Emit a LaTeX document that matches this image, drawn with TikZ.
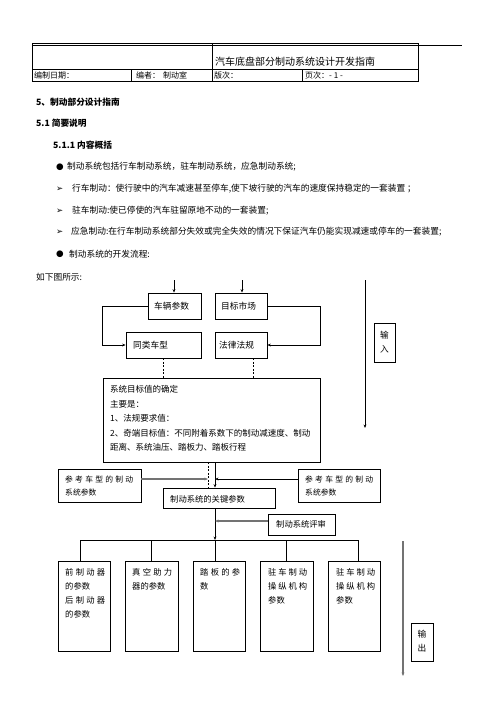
\documentclass[tikz,border=0pt]{standalone}
\usepackage{fontspec}
\setmainfont{Noto Sans CJK SC}
\newfontfamily\symf{DejaVu Sans}
\usetikzlibrary{arrows.meta}
\begin{document}
\begin{tikzpicture}[x=1pt,y=-1pt,
  box/.style={draw, line width=0.8pt, inner sep=0pt},
  txt/.style={inner sep=0pt, anchor=west, font=\fontsize{8.7}{10}\selectfont},
  htxt/.style={inner sep=0pt, anchor=west, font=\fontsize{8}{10}\selectfont},
  btxt/.style={inner sep=0pt, anchor=west, font=\fontsize{8.3}{10}\selectfont},
  rtxt/.style={inner sep=0pt, anchor=west, font=\fontsize{7.8}{10}\selectfont},
  hd/.style={inner sep=0pt, anchor=west, font=\fontsize{8.7}{10}\selectfont\bfseries},
  arrsym/.style={inner sep=0pt, anchor=west, font=\symf\fontsize{8.5}{10}\selectfont},
  arr/.style={-{Stealth[length=3.5pt,width=2.8pt]}, line width=0.7pt},
  garr/.style={-{Stealth[length=3.5pt,width=2.8pt]}, draw=black!55, line width=1.3pt},
  dsh/.style={dashed, dash pattern=on 2pt off 1.5pt, line width=0.7pt}]
\useasboundingbox (0,0) rectangle (496,702);
\fill[white] (0,0) rectangle (496,702);

% ---------- header table ----------
\draw[line width=0.6pt] (32,43) rectangle (418,81);
\draw[line width=0.6pt] (32,69) -- (418,69);
\draw[line width=0.6pt] (212,43) -- (212,81);
\draw[line width=0.6pt] (131,69) -- (131,81);
\draw[line width=0.6pt] (302,69) -- (302,81);
\draw[line width=1.2pt] (32,45.5) -- (462,45.5);
\node[inner sep=0pt, anchor=west, font=\fontsize{10}{12}\selectfont] (title) at (215,62) {汽车底盘部分制动系统设计开发指南};
\node[htxt] (h1) at (34,75) {编制日期：};
\node[htxt] (h2) at (136,75) {编者：};
\node[htxt] (h3) at (163,75) {制动室};
\node[htxt] (h4) at (214,75) {版次：};
\node[htxt] (h5) at (305,75) {页次：- 1 -};

% ---------- body text ----------
\node[hd] (s5) at (36,102) {5、制动部分设计指南};
\node[hd] (s51) at (36,123) {5.1 简要说明};
\node[hd] (s511) at (53,145) {5.1.1 内容概括};
\node[txt] (bu1) at (56,167) {\symf ●};
\node[txt] (t1) at (67,167) {制动系统包括行车制动系统，驻车制动系统，应急制动系统;};
\node[arrsym] (ar1) at (56,189) {➢};
\node[txt] (t2) at (72,189) {行车制动：使行驶中的汽车减速甚至停车,使下坡行驶的汽车的速度保持稳定的一套装置 ；};
\node[arrsym] (ar2) at (56,211) {➢};
\node[txt] (t3) at (72,211) {驻车制动:使已停使的汽车驻留原地不动的一套装置;};
\node[arrsym] (ar3) at (56,232) {➢};
\node[txt] (t4) at (71,232) {应急制动:在行车制动系统部分失效或完全失效的情况下保证汽车仍能实现减速或停车的一套装置;};
\node[txt] (bu2) at (56,254) {\symf ●};
\node[txt] (t5) at (69,254) {制动系统的开发流程:};
\node[txt] (t6) at (36,277) {如下图所示:};

% ---------- flow chart ----------
\coordinate (in1) at (174,280);
\coordinate (in2) at (242,280);
\node[box, minimum width=53pt, minimum height=26pt] (cl) at (174.5,306) {};
\node[txt] at (154,306) {车辆参数};
\node[box, minimum width=52pt, minimum height=26pt] (mk) at (241,306) {};
\node[txt] at (221,306) {目标市场};
\node[box, minimum width=75pt, minimum height=26pt] (tl) at (163.5,345) {};
\node[txt] at (133,345) {同类车型};
\node[box, minimum width=52pt, minimum height=26pt] (fl) at (241,345) {};
\node[txt] at (219,345) {法律法规};

\draw[arr] (in1) -- (in1 |- cl.north);
\draw[arr] (in2) -- (in2 |- mk.north);
\draw[arr] (cl.west) -- ++(-45,0) |- (tl.west);
\draw[arr] (mk.east) -- ++(53,0) |- (fl.east);

\node[box, minimum width=217pt, minimum height=84pt] (goal) at (211.5,420) {};
\node[txt, font=\fontsize{8.5}{10}\selectfont] at (110,389) {系统目标值的确定};
\node[txt, font=\fontsize{8.5}{10}\selectfont] at (110,404) {主要是：};
\node[txt, font=\fontsize{8.5}{10}\selectfont] at (110,418) {1、法规要求值：};
\node[txt, font=\fontsize{8.5}{10}\selectfont] at (110,433) {2、奇端目标值：不同附着系数下的制动减速度、制动};
\node[txt, font=\fontsize{8.5}{10}\selectfont] at (110,447) {距离、系统油压、踏板力、踏板行程};

\draw[dsh] (tl.south) -- (tl.south |- goal.north);
\draw[dsh] ([xshift=12pt]fl.south) -- ([xshift=12pt]fl.south |- goal.north);

% input side arrow
\coordinate (inTop) at (365,280);
\coordinate (inBot) at (365,428);
\draw[arr] (inTop) -- (inBot);
\node[box, minimum width=21pt, minimum height=39pt] (inbox) at (384.5,342.5) {};
\node[txt, anchor=center] at (384.5,335) {输};
\node[txt, anchor=center] at (384.5,349) {入};

% reference boxes and key parameters
\coordinate (dx) at (208,0);
\coordinate (sx) at (215,0);
\node[box, minimum width=83pt, minimum height=33pt] (ref1) at (99.5,485.5) {};
\node[rtxt] at (65,480) {\hbox to 68pt{参\hfil 考\hfil 车\hfil 型\hfil 的\hfil 制\hfil 动}};
\node[rtxt] at (65,492.5) {系统参数};
\node[box, minimum width=82pt, minimum height=33pt] (ref2) at (339,485.5) {};
\node[rtxt] at (305,480) {\hbox to 68pt{参\hfil 考\hfil 车\hfil 型\hfil 的\hfil 制\hfil 动}};
\node[rtxt] at (305,492.5) {系统参数};
\node[box, minimum width=112pt, minimum height=20pt] (key) at (219,498) {};
\node[txt, font=\fontsize{8.3}{10}\selectfont] at (170,499) {制动系统的关键参数};

\draw[dsh] (goal.south -| dx) -- (key.north -| dx);
\draw[arr] (goal.south -| sx) -- (key.north -| sx);
\draw[garr] ([yshift=6.5pt]ref1.east) -- ([yshift=6.5pt]ref1.east -| dx);
\draw[arr] ([yshift=6.5pt]ref2.west) -- ([yshift=6.5pt]ref2.west -| sx);

\node[box, minimum width=67pt, minimum height=21pt] (rev) at (301.5,524.5) {};
\node[txt, font=\fontsize{8.3}{10}\selectfont] at (276,524.5) {制动系统评审};
\coordinate (bus) at (0,540);
\draw[arr] (key.south -| sx) -- (bus -| sx);
\draw[garr] ([yshift=3.5pt]rev.west) -- ([yshift=3.5pt]rev.west -| sx);

% bottom boxes
\node[box, minimum width=52pt, minimum height=90pt] (b1) at (84,606) {};
\node[box, minimum width=53pt, minimum height=90pt] (b2) at (151.5,606) {};
\node[box, minimum width=52pt, minimum height=90pt] (b3) at (219,606) {};
\node[box, minimum width=53pt, minimum height=90pt] (b4) at (286.5,606) {};
\node[box, minimum width=52pt, minimum height=90pt] (b5) at (354,606) {};
\draw[line width=0.8pt] ([xshift=-4pt]b1.north |- bus) -- ([xshift=4pt]b5.north |- bus);
\draw[line width=0.8pt] ([xshift=-4pt]b1.north |- bus) -- ([xshift=-4pt]b1.north);
\draw[line width=0.8pt] (b2.north |- bus) -- (b2.north);
\draw[line width=0.8pt] (bus -| sx) -- (b3.north -| sx);
\draw[line width=0.8pt] (b4.north |- bus) -- (b4.north);
\draw[line width=0.8pt] ([xshift=4pt]b5.north |- bus) -- ([xshift=4pt]b5.north);

\node[btxt] at (65,572) {\hbox to 40pt{前\hfil 制\hfil 动\hfil 器}};
\node[btxt] at (65,586) {的参数};
\node[btxt] at (65,600) {\hbox to 40pt{后\hfil 制\hfil 动\hfil 器}};
\node[btxt] at (65,614) {的参数};
\node[btxt] at (132,572) {\hbox to 40pt{真\hfil 空\hfil 助\hfil 力}};
\node[btxt] at (132,586) {器的参数};
\node[btxt] at (200,572) {\hbox to 40pt{踏\hfil 板\hfil 的\hfil 参}};
\node[btxt] at (200,586) {数};
\node[btxt] at (268,572) {\hbox to 39pt{驻\hfil 车\hfil 制\hfil 动}};
\node[btxt] at (268,586) {\hbox to 39pt{操\hfil 纵\hfil 机\hfil 构}};
\node[btxt] at (268,600) {参数};
\node[btxt] at (336,572) {\hbox to 39pt{驻\hfil 车\hfil 制\hfil 动}};
\node[btxt] at (336,586) {\hbox to 39pt{操\hfil 纵\hfil 机\hfil 构}};
\node[btxt] at (336,600) {参数};

% output side arrow
\coordinate (outTop) at (403,541);
\coordinate (outBot) at (403,676);
\draw[garr] (outTop) -- (outBot);
\node[box, minimum width=22pt, minimum height=38pt] (outbox) at (422,642) {};
\node[txt, anchor=center] at (422,634) {输};
\node[txt, anchor=center] at (422,648) {出};
\end{tikzpicture}
\end{document}
